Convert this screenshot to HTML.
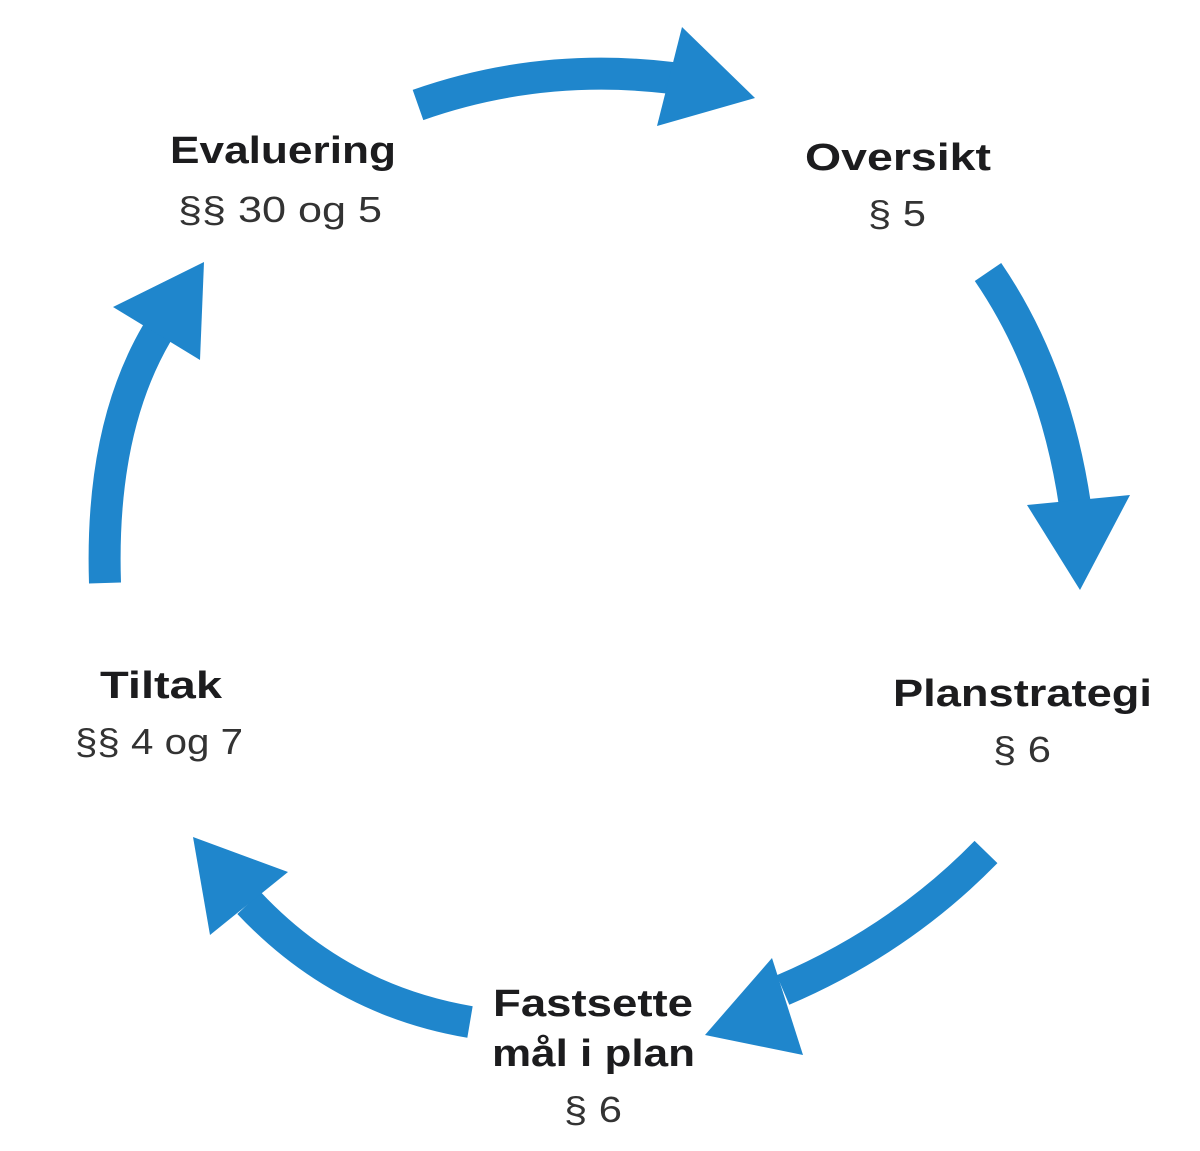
<!DOCTYPE html>
<html><head><meta charset="utf-8"><style>
html,body{margin:0;padding:0;background:#fff;}
svg{display:block;}
.b{font-family:"Liberation Sans",sans-serif;font-weight:bold;font-size:38px;fill:#1c1c1e;}
.n{font-family:"Liberation Sans",sans-serif;font-size:36px;fill:#333;}
</style></head><body>
<svg width="1200" height="1151" viewBox="0 0 1200 1151">
<g fill="none" stroke="#1f86cc" stroke-width="32">
<path d="M418,105 Q540,62 672,78"/>
<path d="M988,272 Q1055,370 1075,505"/>
<path d="M986,852 Q900,940 783,990"/>
<path d="M470,1022 Q340,1000 249,903"/>
<path d="M105,583 Q100,430 157,333"/>
</g>
<g fill="#1f86cc">
<polygon points="682,27 755,98 657,126"/>
<polygon points="1027,505 1130,495 1080,590"/>
<polygon points="772,958 803,1055 705,1035"/>
<polygon points="288,872 210,935 193,837"/>
<polygon points="113,307 200,360 204,262"/>
</g>
<text class="b" x="170" y="163" textLength="226" lengthAdjust="spacingAndGlyphs">Evaluering</text>
<text class="n" x="178" y="222" textLength="204" lengthAdjust="spacingAndGlyphs">§§ 30 og 5</text>
<text class="b" x="805" y="170" textLength="186" lengthAdjust="spacingAndGlyphs">Oversikt</text>
<text class="n" x="868" y="226" textLength="58" lengthAdjust="spacingAndGlyphs">§ 5</text>
<text class="b" x="893" y="706" textLength="259" lengthAdjust="spacingAndGlyphs">Planstrategi</text>
<text class="n" x="993" y="762" textLength="58" lengthAdjust="spacingAndGlyphs">§ 6</text>
<text class="b" x="100" y="698" textLength="122" lengthAdjust="spacingAndGlyphs">Tiltak</text>
<text class="n" x="75" y="754" textLength="168" lengthAdjust="spacingAndGlyphs">§§ 4 og 7</text>
<text class="b" x="493" y="1016" textLength="200" lengthAdjust="spacingAndGlyphs">Fastsette</text>
<text class="b" x="492" y="1066" textLength="203" lengthAdjust="spacingAndGlyphs">mål i plan</text>
<text class="n" x="564" y="1122" textLength="58" lengthAdjust="spacingAndGlyphs">§ 6</text>
</svg>
</body></html>
